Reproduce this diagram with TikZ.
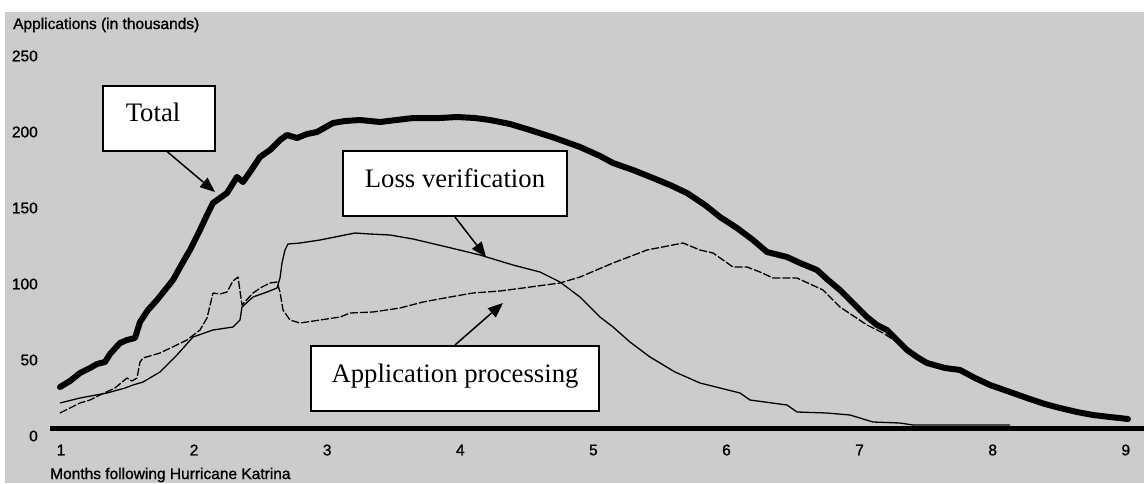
\documentclass[tikz,border=0pt]{standalone}
\usepackage{fontspec}
\setmainfont{Liberation Serif}
\newfontfamily\chartfont[FakeBold=1.2]{Liberation Sans}
\usepackage{tikz}
\usetikzlibrary{arrows.meta}
\definecolor{panelgray}{HTML}{CCCCCC}
\tikzset{
	callout/.style={draw, line width=2pt, fill=white, inner xsep=0pt, inner ysep=0pt,
		text height=36pt, text depth=29pt, font=\fontsize{26.7}{32}\selectfont},
	pointer/.style={line width=1.5pt, -{Triangle[length=15pt,width=12pt]}},
	axislabel/.style={font=\chartfont\fontsize{15.5}{18}\selectfont, inner sep=0pt},
	totalline/.style={line width=6pt, line join=round, line cap=round},
	lossline/.style={line width=1.3pt, line join=round},
	procline/.style={line width=1.3pt, line join=round, dash pattern=on 8pt off 2pt},
}

\begin{document}
\begin{tikzpicture}[x=1pt, y=-1pt]
	\useasboundingbox (0,0) rectangle (1144,483);
	\fill[white] (0,0) rectangle (1144,483);
	\fill[panelgray] (5,12) rectangle (1144,483);
	% Axis texts
	\node[axislabel, anchor=west] (ytitle) at (13,25) {Applications (in thousands)};
	\node[axislabel, anchor=west] (xtitle) at (50,475) {Months following Hurricane Katrina};
	\foreach \m in {1,...,9}
		\node[axislabel] (m\m) at ({61+(\m-1)*133.1},450) {\m};
	\foreach \v in {0,50,...,250}
		\node[axislabel, anchor=east] (v\v) at (38,{436-1.52*\v}) {\v};
	% Curves
	\draw[procline] plot[sharp plot] coordinates {(60,413) (70,408) (80,403) (90,400) (100,395) (115,388) (127,378) (132,381) (137,378) (140,362) (143,358) (160,353) (187,340) (200,330) (207,318) (213,293) (220,294) (227,292) (233,281) (238,277) (242,305) (253,293) (262,287) (270,283) (277,282) (280,292) (283,310) (290,320) (300,323) (320,320) (340,317) (350,313) (373,312) (400,308) (423,302) (450,297) (473,293) (500,291) (523,288) (545,285) (560,283) (580,277) (613,263) (647,250) (683,243) (700,250) (713,253) (733,267) (747,267) (760,272) (773,278) (797,278) (823,290) (840,307) (867,325) (883,333) (897,342) (910,352) (927,362) (945,368) (960,370) (975,378) (990,385) (1010,392) (1027,398) (1045,404) (1060,408) (1077,412) (1093,415) (1110,417) (1128,419)};
	\draw[lossline] plot[sharp plot] coordinates {(60,403) (80,398) (107,393) (125,388) (133,385) (143,382) (160,372) (177,355) (193,337) (213,330) (233,327) (240,320) (242,307) (253,297) (267,292) (277,288) (280,278) (282,263) (285,250) (288,244) (300,243) (320,240) (340,236) (355,233) (370,234) (390,235) (413,239) (447,247) (480,255) (513,265) (540,272) (560,282) (580,297) (600,317) (613,327) (630,342) (650,357) (675,372) (700,383) (720,388) (740,393) (750,400) (787,405) (797,412) (827,413) (850,415) (873,422) (900,423) (913,425) (1010,425)};
	\draw[totalline] plot[sharp plot] coordinates {(60,387) (70,381) (80,373) (90,368) (97,364) (105,362) (110,354) (120,343) (127,340) (135,338) (140,322) (148,310) (157,300) (165,290) (173,280) (183,262) (190,250) (200,230) (207,215) (213,203) (220,198) (227,193) (237,177) (243,182) (250,172) (260,157) (270,150) (280,140) (287,135) (297,138) (307,134) (317,132) (333,123) (345,121) (360,120) (380,122) (413,118) (440,118) (457,117) (475,118) (490,120) (510,124) (530,130) (555,138) (580,147) (600,156) (613,163) (633,170) (653,178) (670,185) (687,193) (705,205) (720,217) (737,228) (753,240) (767,252) (787,257) (800,263) (817,270) (828,280) (840,290) (853,303) (867,317) (877,325) (887,330) (897,340) (907,350) (917,357) (927,363) (945,368) (960,370) (975,378) (990,385) (1010,392) (1027,398) (1045,404) (1060,408) (1077,412) (1093,415) (1110,417) (1128,419)};
	\draw[line width=5pt] (50,428) -- (1144,428);
	% Define nodes
	\node[callout, minimum width=112pt] (total) at (159,118) {Total\hspace*{12pt}};
	\node[callout, minimum width=224pt] (loss) at (455,183.5) {Loss verification};
	\node[callout, minimum width=288pt] (proc) at (455,378.5) {Application processing};
	\coordinate (totaltip) at (215,192);
	\coordinate (losstip) at (486,257);
	\coordinate (proctip) at (503,303);
	% Connect the nodes
	\draw[pointer] ([xshift=8pt]total.south) -- (totaltip);
	\draw[pointer] (loss.south) -- (losstip);
	\draw[pointer] (proc.north) -- (proctip);
\end{tikzpicture}
\end{document}
